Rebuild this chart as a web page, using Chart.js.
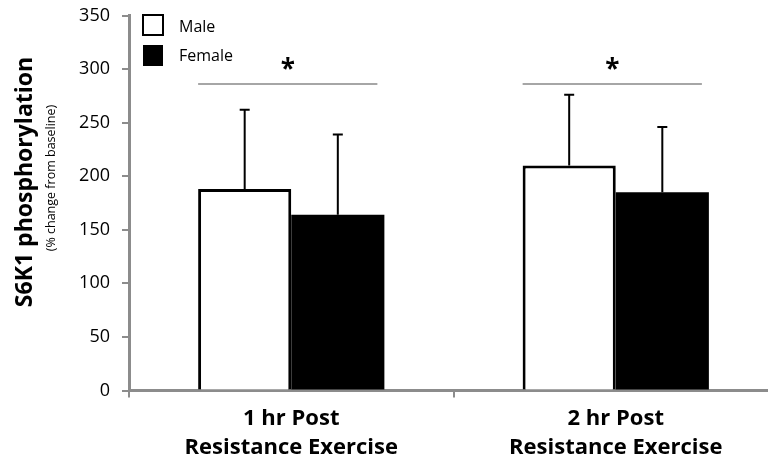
<!DOCTYPE html>
<html>
<head>
<meta charset="utf-8">
<script src="https://cdn.jsdelivr.net/npm/chart.js@4/dist/chart.umd.min.js"></script>
<style>
  html, body { margin: 0; padding: 0; background: #fff; overflow: hidden; }
  #wrap { width: 780px; height: 464px; }
</style>
</head>
<body>
<div id="wrap"><canvas id="myChart"></canvas></div>
<script>
const categories = [['1 hr Post', 'Resistance Exercise'], ['2 hr Post', 'Resistance Exercise']];
const maleValues = [188, 210];
const femaleValues = [164, 185];
const maleSD = [74, 66];
const femaleSD = [75, 61];
const sigLevel = 286;
const sigMarks = ['*', '*'];
const yMin = 0, yMax = 350, yStep = 50;

const font = '"Open Sans", sans-serif';
const axisGray = '#8c8c8c';

const annotate = {
    id: 'annotate',
    afterDatasetsDraw(chart) {
        const ctx = chart.ctx;
        const yScale = chart.scales.y;
        const metas = [chart.getDatasetMeta(0), chart.getDatasetMeta(1)];
        const vals = [maleValues, femaleValues];
        const sds = [maleSD, femaleSD];

        // error bars (upper only)
        ctx.save();
        ctx.strokeStyle = '#000';
        ctx.lineWidth = 2;
        metas.forEach((meta, d) => {
            meta.data.forEach((bar, i) => {
                const top = yScale.getPixelForValue(vals[d][i]);
                const end = yScale.getPixelForValue(vals[d][i] + sds[d][i]);
                ctx.beginPath();
                ctx.moveTo(bar.x, top);
                ctx.lineTo(bar.x, end);
                ctx.moveTo(bar.x - 5, end);
                ctx.lineTo(bar.x + 5, end);
                ctx.stroke();
            });
        });

        // significance lines + asterisks
        const yl = yScale.getPixelForValue(sigLevel);
        sigMarks.forEach((mark, i) => {
            const m = metas[0].data[i], f = metas[1].data[i];
            const x0 = m.x - m.width / 2;
            const x1 = f.x + f.width / 2 - 7;
            ctx.strokeStyle = '#888';
            ctx.lineWidth = 1.5;
            ctx.beginPath();
            ctx.moveTo(x0, yl);
            ctx.lineTo(x1, yl);
            ctx.stroke();
            ctx.fillStyle = '#000';
            ctx.font = 'bold 26px ' + font;
            ctx.textAlign = 'center';
            ctx.textBaseline = 'middle';
            ctx.fillText(mark, (x0 + x1) / 2, yl - 13);
        });
        ctx.restore();
    },
    afterDraw(chart) {
        const ctx = chart.ctx;
        const left = chart.chartArea.left;
        ctx.save();
        // legend
        ctx.lineWidth = 2;
        ctx.strokeStyle = '#000';
        ctx.fillStyle = '#fff';
        ctx.fillRect(left + 14, 15, 20, 20);
        ctx.strokeRect(left + 14, 15, 20, 20);
        ctx.fillStyle = '#000';
        ctx.fillRect(left + 14, 45, 20, 21);
        ctx.font = '16px ' + font;
        ctx.textAlign = 'left';
        ctx.textBaseline = 'middle';
        ctx.fillText('Male', left + 50, 27);
        ctx.fillText('Female', left + 50, 56);

        // y axis titles
        ctx.translate(32, 182);
        ctx.rotate(-Math.PI / 2);
        ctx.textAlign = 'center';
        ctx.textBaseline = 'alphabetic';
        ctx.font = 'bold 23px ' + font;
        ctx.fillText('S6K1 phosphorylation', 0, 0);
        ctx.font = '12.5px ' + font;
        ctx.fillText('(% change from baseline)', 4, 23);
        ctx.restore();
    }
};

new Chart(document.getElementById('myChart'), {
    type: 'bar',
    data: {
        labels: categories,
        datasets: [
            {
                label: 'Male',
                data: maleValues,
                backgroundColor: '#fff',
                borderColor: '#000',
                borderWidth: 3,
                borderSkipped: 'bottom'
            },
            {
                label: 'Female',
                data: femaleValues,
                backgroundColor: '#000',
                borderColor: '#000',
                borderWidth: 0
            }
        ]
    },
    options: {
        responsive: true,
        maintainAspectRatio: false,
        animation: false,
        layout: { padding: { top: 15.5, right: 2, left: 0, bottom: 0 } },
        datasets: { bar: { barPercentage: 1, categoryPercentage: 0.574 } },
        plugins: { legend: { display: false }, tooltip: { enabled: false } },
        scales: {
            x: {
                grid: { offset: true, drawOnChartArea: false, tickLength: 7, color: axisGray, lineWidth: 2 },
                border: { color: axisGray, width: 3 },
                ticks: { color: '#000', font: { family: font, size: 22, weight: 'bold', lineHeight: 1.32 }, padding: 7, maxRotation: 0 },
                afterFit(scale) { scale.height = 73.5; }
            },
            y: {
                min: yMin,
                max: yMax,
                grid: { drawOnChartArea: false, tickLength: 7, color: axisGray, lineWidth: 2 },
                border: { color: axisGray, width: 3 },
                ticks: { stepSize: yStep, color: '#000', font: { family: font, size: 18 }, padding: 12 },
                afterFit(scale) {
                    scale.width = 129;
                    scale.paddingTop = 0;
                    scale.paddingBottom = 0;
                }
            }
        }
    },
    plugins: [annotate]
});
</script>
</body>
</html>
